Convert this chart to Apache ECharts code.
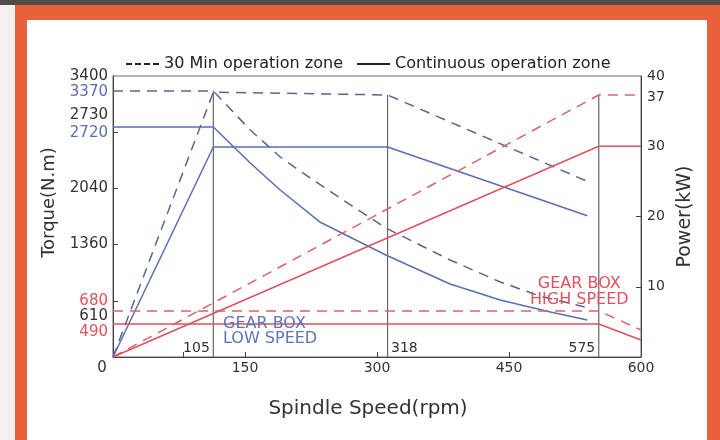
<!DOCTYPE html>
<html lang="en">
<head>
<meta charset="UTF-8">
<title>Torque / Power</title>
<style>
  html, body { margin: 0; padding: 0; background: #fff; }
  #chart { width: 720px; height: 440px; }
</style>
</head>
<body>
<div id="chart"></div>
<script src="https://cdn.jsdelivr.net/npm/echarts@6/dist/echarts.min.js"></script>
<script>
// values (x in the picture's rpm scale)
var lowTorque30 = [[0, 3219], [114, 3219], [156, 2747], [190, 2420], [224, 2166], [258, 1924], [310, 1561], [383, 1174], [440, 908], [485, 738], [536, 605]];
var lowTorqueCont = [[0, 2783], [114, 2783], [156, 2347], [190, 2021], [235, 1634], [310, 1234], [383, 883], [440, 690], [497, 545], [539, 448]];
var lowPower30 = [[0, 0], [114, 37.7], [312, 37.3], [539, 25]];
var lowPowerCont = [[0, 0], [114, 29.9], [312, 29.9], [539, 20.1]];
var highTorque30 = [[0, 557], [552, 557], [600, 327]];
var highTorqueCont = [[0, 399], [552, 399], [600, 206]];
var highPower30 = [[0, 0], [552, 37.3], [600, 37.3]];
var highPowerCont = [[0, 0], [552, 30], [600, 30]];

var zoneSpeeds = [114, 312, 552];
var zoneTops = [3219, 3170, 3170];
var zoneText = ['105', '318', '575'];
var zoneSide = ['left', 'right', 'left'];

var torqueLabelAt = [302, 496, 680, 1360, 2040, 2710, 2928, 3207, 3400];
var torqueLabelText = ['490', '610', '680', '1360', '2040', '2720', '2730', '3370', '3400'];
var torqueLabelTone = ['r', 'k', 'r', 'k', 'k', 'b', 'k', 'b', 'k'];
var torqueTicks = [680, 1360, 2040, 2720];
var powerLabels = [10, 20, 30, 37, 40];
var powerTicks = [10, 20, 30];
var speedTicks = [80, 150, 300, 450];

var FONT = 'DejaVu Sans';
var BLUE = '#5b6db4', BLUE_D = '#58668f', RED = '#e2505e', RED_D = '#d9626c', GREY = '#666';
var DASH = [10, 7];
var N30 = '30 Min operation zone', NCONT = 'Continuous operation zone';

function curve(name, data, color, dashed, axis) {
    return {
        name: name, type: 'line', yAxisIndex: axis, data: data,
        symbol: 'none', z: 3,
        lineStyle: { color: color, width: 1.5, type: dashed ? DASH : 'solid' },
        itemStyle: { color: color }
    };
}

var series = [
    curve(N30, lowTorque30, BLUE_D, true, 0),
    curve(NCONT, lowTorqueCont, BLUE, false, 0),
    curve(N30, lowPower30, BLUE_D, true, 1),
    curve(NCONT, lowPowerCont, BLUE, false, 1),
    curve(N30, highTorque30, RED_D, true, 0),
    curve(NCONT, highTorqueCont, RED, false, 0),
    curve(N30, highPower30, RED_D, true, 1),
    curve(NCONT, highPowerCont, RED, false, 1)
];
zoneSpeeds.forEach(function (s, i) {
    series.push({
        type: 'line', yAxisIndex: 0, symbol: 'circle', symbolSize: 1, z: 2,
        lineStyle: { color: GREY, width: 1.2 },
        itemStyle: { color: GREY },
        data: [
            { value: [s, 0], label: { show: true, formatter: zoneText[i], position: zoneSide[i], offset: [0, -9], color: '#333', fontSize: 14, fontFamily: FONT, distance: 3 } },
            [s, zoneTops[i]]
        ]
    });
});

var myChart = echarts.init(document.getElementById('chart'));
var option = {
    backgroundColor: '#f6f0ee',
    animation: false,
    graphic: [
        { type: 'rect', z: -10, shape: { x: 15, y: 0, width: 705, height: 440 }, style: { fill: '#e8613b' } },
        { type: 'rect', z: -10, shape: { x: 0, y: 0, width: 720, height: 5 }, style: { fill: '#4e4b49' } },
        { type: 'rect', z: -9, shape: { x: 27, y: 20, width: 680, height: 420 }, style: { fill: '#ffffff' } },
        { type: 'text', z: 5, left: 223, top: 316, style: { text: 'GEAR BOX\nLOW SPEED', fill: '#5f73b8', font: '16px "DejaVu Sans"', lineHeight: 15 } },
        { type: 'text', z: 5, left: 530, top: 276, style: { text: 'GEAR BOX\nHIGH SPEED', fill: RED, font: '16px "DejaVu Sans"', lineHeight: 16, align: 'center', textAlign: 'center' } }
    ],
    legend: {
        left: 121, top: 51, itemWidth: 33, itemHeight: 2, itemGap: 14,
        textStyle: { fontSize: 16, color: '#222', fontFamily: FONT },
        data: [
            { name: N30, icon: 'path://M0,0H6V2H0Z M9,0H15V2H9Z M18,0H24V2H18Z M27,0H33V2H27Z', itemStyle: { color: '#222' } },
            { name: NCONT, icon: 'path://M0,0H33V2H0Z', itemStyle: { color: '#222' } }
        ]
    },
    grid: { left: 113, right: 79, top: 76, bottom: 83, show: true, borderColor: GREY, borderWidth: 1 },
    xAxis: {
        type: 'value', min: 0, max: 600, interval: 150,
        name: 'Spindle Speed(rpm)', nameLocation: 'middle', nameGap: 42,
        nameTextStyle: { fontSize: 20, color: '#333', fontFamily: FONT, padding: [0, 18, 0, 0] },
        axisLine: { lineStyle: { color: '#444' } },
        axisTick: { inside: true, length: 5, customValues: speedTicks, lineStyle: { color: '#444' } },
        splitLine: { show: false },
        axisLabel: {
            margin: 4, color: '#333', fontFamily: FONT, fontSize: 14,
            formatter: function (v) { return v === 0 ? '{z|0}' : '{n|' + v + '}'; },
            rich: { z: { padding: [0, 22, 0, 0], fontSize: 15, fontFamily: FONT, color: '#333' }, n: { fontSize: 14, fontFamily: FONT, color: '#333' } }
        }
    },
    yAxis: [
        {
            type: 'value', min: 0, max: 3400,
            name: 'Torque(N.m)', nameLocation: 'middle', nameGap: 55,
            nameTextStyle: { fontSize: 18, color: '#333', fontFamily: FONT, padding: [0, 0, 0, 28] },
            axisLine: { show: true, lineStyle: { color: '#444' } },
            axisTick: { show: true, inside: true, length: 5, customValues: torqueTicks, lineStyle: { color: '#444' } },
            splitLine: { show: false },
            axisLabel: {
                margin: 5, customValues: torqueLabelAt,
                formatter: function (v) {
                    var i = torqueLabelAt.indexOf(v);
                    return '{' + torqueLabelTone[i] + '|' + torqueLabelText[i] + '}';
                },
                rich: {
                    k: { color: '#333', fontSize: 15, fontFamily: FONT },
                    b: { color: BLUE, fontSize: 15, fontFamily: FONT },
                    r: { color: RED, fontSize: 15, fontFamily: FONT }
                }
            }
        },
        {
            type: 'value', min: 0, max: 40,
            name: 'Power(kW)', nameLocation: 'middle', nameGap: 35,
            nameTextStyle: { fontSize: 19, color: '#333', fontFamily: FONT },
            axisLine: { show: true, lineStyle: { color: '#444' } },
            axisTick: { show: true, inside: true, length: 5, customValues: powerTicks, lineStyle: { color: '#444' } },
            splitLine: { show: false },
            axisLabel: { margin: 6, customValues: powerLabels, color: '#333', fontSize: 14, fontFamily: FONT }
        }
    ],
    series: series
};
myChart.setOption(option);
</script>
</body>
</html>
